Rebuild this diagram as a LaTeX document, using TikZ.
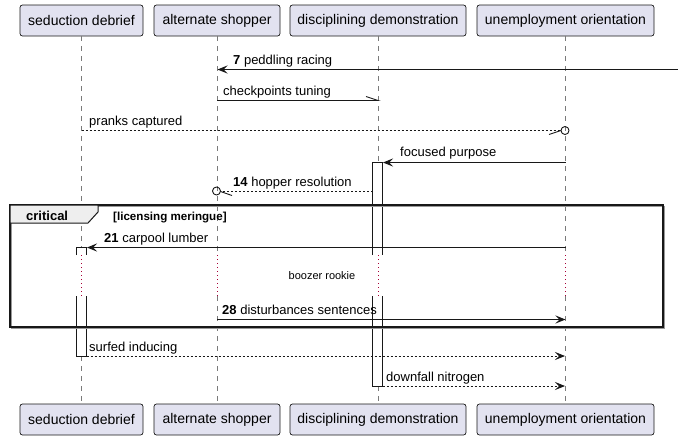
\documentclass[tikz,border=0pt]{standalone}
\usepackage{fontspec}
\setmainfont{Liberation Sans}
\usetikzlibrary{arrows.meta}
\definecolor{pfill}{HTML}{E2E2F0}
\definecolor{ink}{HTML}{181818}
\definecolor{delayc}{HTML}{A80036}
\definecolor{tabfill}{HTML}{EEEEEE}
\definecolor{lifec}{HTML}{7A7A7A}
\begin{document}
\begin{tikzpicture}[x=1pt,y=-1pt,
  part/.style={draw=ink, fill=pfill, rounded corners=2.5pt, line width=0.7pt,
    minimum height=31pt, inner sep=0pt, font=\fontsize{14}{16}\selectfont},
  life/.style={draw=lifec, line width=0.8pt, dash pattern=on 5pt off 5pt},
  delayline/.style={draw=delayc, line width=0.9pt, dash pattern=on 1pt off 3pt},
  actbar/.style={draw=ink, line width=0.9pt},
  msg/.style={draw=ink, line width=0.9pt},
  ret/.style={draw=ink, line width=0.9pt, dash pattern=on 2pt off 2pt},
  tip/.style={-{Stealth[length=10pt,width=8pt,inset=4pt]}},
  lbl/.style={anchor=base west, inner sep=0pt, font=\fontsize{13}{15}\selectfont, text=black},
  dlbl/.style={anchor=base, inner sep=0pt, font=\fontsize{11}{13}\selectfont, text=black}
]
\useasboundingbox (0,0) rectangle (678,440);

% participants
\node[part, minimum width=123pt] (p1t) at (81.5,20.5) {seduction debrief};
\node[part, minimum width=126pt] (p2t) at (217,20.5) {alternate shopper};
\node[part, minimum width=176pt] (p3t) at (378,20.5) {disciplining demonstration};
\node[part, minimum width=177pt] (p4t) at (565.5,20.5) {unemployment orientation};
\node[part, minimum width=123pt] (p1b) at (81.5,419.5) {seduction debrief};
\node[part, minimum width=126pt] (p2b) at (217,419.5) {alternate shopper};
\node[part, minimum width=176pt] (p3b) at (378,419.5) {disciplining demonstration};
\node[part, minimum width=177pt] (p4b) at (565.5,419.5) {unemployment orientation};

% delay coordinates
\coordinate (d1a) at (81.5,255); \coordinate (d1b) at (81.5,296);
\coordinate (d2a) at (217,255);  \coordinate (d2b) at (217,296);
\coordinate (d3a) at (378,255);  \coordinate (d3b) at (378,296);
\coordinate (d4a) at (565.5,255); \coordinate (d4b) at (565.5,296);

% lifelines
\foreach \i in {1,2,3,4}{
  \draw[life] (p\i t.south) -- (d\i a);
  \draw[delayline] (d\i a) -- (d\i b);
  \draw[life] (d\i b) -- (p\i b.north);
}

% activation bars
\fill[white] (76.5,247) rectangle (86.5,255);
\fill[white] (76.5,296) rectangle (86.5,356);
\draw[actbar] (76.5,255) -- (76.5,247) -- (86.5,247) -- (86.5,255);
\draw[actbar] (76.5,296) -- (76.5,356) -- (86.5,356) -- (86.5,296);
\fill[white] (372.5,162) rectangle (382.5,255);
\fill[white] (372.5,296) rectangle (382.5,386);
\draw[actbar] (372.5,255) -- (372.5,162) -- (382.5,162) -- (382.5,255);
\draw[actbar] (372.5,296) -- (372.5,386) -- (382.5,386) -- (382.5,296);

% critical frame
\draw[line width=1.3pt, draw=black!40] (11.5,206.5) rectangle (664.5,328.5);
\draw[line width=1.3pt, draw=ink] (10,205) rectangle (663,327);
\draw[fill=tabfill, draw=ink, line width=1pt] (10,205) -- (98,205) -- (98,212) -- (88,223) -- (10,223) -- cycle;
\node[anchor=base west, inner sep=0pt, font=\fontsize{13}{15}\selectfont\bfseries] (crit) at (26,220) {critical};
\node[anchor=base west, inner sep=0pt, font=\fontsize{11.6}{13}\selectfont\bfseries] (cond) at (113,220) {[licensing meringue]};

% message endpoints
\coordinate (m1s) at (678,69.5);   \coordinate (m1e) at (217.5,69.5);
\coordinate (m2s) at (217,100.5);  \coordinate (m2e) at (378,100.5);
\coordinate (m2b) at (366,96.5);
\coordinate (m3s) at (81.5,130.5); \coordinate (m3e) at (561,130.5);
\coordinate (m3c) at (565,130.5);  \coordinate (m3b) at (549,134.5);
\coordinate (m4s) at (565.5,162.5); \coordinate (m4e) at (383,162.5);
\coordinate (m5s) at (372.5,191.5); \coordinate (m5e) at (220.5,191.5);
\coordinate (m5c) at (216.5,191); \coordinate (m5b) at (232,195.5);
\coordinate (m6s) at (565.5,247.5); \coordinate (m6e) at (87,247.5);
\coordinate (m7s) at (217,319.5); \coordinate (m7e) at (565.5,319.5);
\coordinate (m8s) at (86.5,356); \coordinate (m8e) at (565,356);
\coordinate (m9s) at (382.5,386); \coordinate (m9e) at (565,386);

% messages
\draw[msg, tip] (m1s) -- (m1e);
\node[lbl] (t1) at (233,64) {\textbf{7} peddling racing};

\draw[msg] (m2s) -- (m2e) -- (m2b);
\node[lbl] (t2) at (223,95) {checkpoints tuning};

\draw[ret] (m3s) -- (m3e);
\draw[msg] (m3b) -- (m3e);
\draw[msg] (m3c) circle (4pt);
\node[lbl] (t3) at (89,125) {pranks captured};

\draw[msg, tip] (m4s) -- (m4e);
\node[lbl] (t4) at (400,156) {focused purpose};

\draw[ret] (m5s) -- (m5e);
\draw[msg] (m5e) -- (m5b);
\draw[msg] (m5c) circle (4pt);
\node[lbl] (t5) at (233,186) {\textbf{14} hopper resolution};

\draw[msg, tip] (m6s) -- (m6e);
\node[lbl] (t6) at (104,242) {\textbf{21} carpool lumber};

\node[dlbl] (dl) at (322,279) {boozer rookie};

\draw[msg, tip] (m7s) -- (m7e);
\node[lbl] (t7) at (222,314) {\textbf{28} disturbances sentences};

\draw[ret, tip] (m8s) -- (m8e);
\node[lbl] (t8) at (89,351) {surfed inducing};

\draw[ret, tip] (m9s) -- (m9e);
\node[lbl] (t9) at (386,381) {downfall nitrogen};
\end{tikzpicture}
\end{document}
